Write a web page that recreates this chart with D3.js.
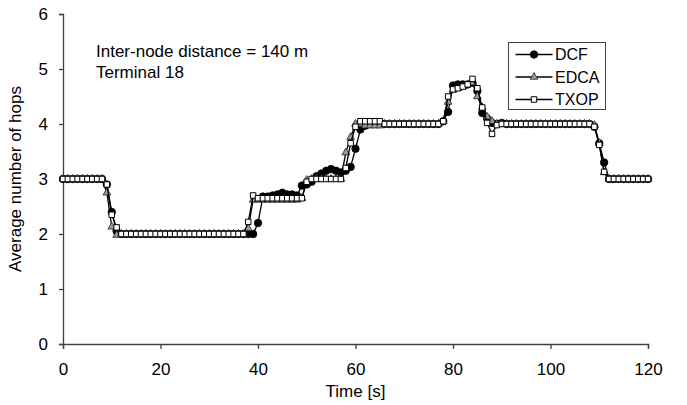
<!DOCTYPE html>
<html>
<head>
<meta charset="utf-8">
<script src="https://cdn.jsdelivr.net/npm/d3@7"></script>
<style>
  body { margin: 0; background: #fff; }
  svg { display: block; font-family: "Liberation Sans", Arial, sans-serif; }
</style>
</head>
<body>
<svg id="chart"></svg>
<script>
// time in seconds, one sample per second
const times = d3.range(0, 121);

const dcf = [
  3, 3, 3, 3, 3, 3, 3, 3, 3, 2.9,
  2.4, 2.05, 2, 2, 2, 2, 2, 2, 2, 2,
  2, 2, 2, 2, 2, 2, 2, 2, 2, 2,
  2, 2, 2, 2, 2, 2, 2, 2, 2, 2,
  2.2, 2.68, 2.68, 2.7, 2.72, 2.75, 2.72, 2.72, 2.7, 2.88,
  2.9, 2.95, 3.05, 3.1, 3.15, 3.18, 3.15, 3.12, 3.15, 3.22,
  3.55, 3.9, 3.97, 4, 4, 4, 4, 4, 4, 4,
  4, 4, 4, 4, 4, 4, 4, 4, 4.05, 4.22,
  4.7, 4.72, 4.72, 4.72, 4.75, 4.6, 4.2, 4.1, 4.02, 4,
  4.02, 4, 4, 4, 4, 4, 4, 4, 4, 4,
  4, 4, 4, 4, 4, 4, 4, 4, 4, 3.95,
  3.65, 3.3, 3, 3, 3, 3, 3, 3, 3, 3,
  3
];

const edca = [
  3, 3, 3, 3, 3, 3, 3, 3, 3, 2.75,
  2.13, 1.98, 2, 2, 2, 2, 2, 2, 2, 2,
  2, 2, 2, 2, 2, 2, 2, 2, 2, 2,
  2, 2, 2, 2, 2, 2, 2, 2, 2.1, 2.62,
  2.62, 2.62, 2.62, 2.62, 2.62, 2.62, 2.62, 2.62, 2.62, 2.65,
  2.98, 3, 3, 3, 3, 3, 3, 3, 3.48, 3.76,
  4, 4, 3.97, 3.97, 3.97, 3.97, 4, 4, 4, 4,
  4, 4, 4, 4, 4, 4, 4, 4, 4.05, 4.4,
  4.62, 4.65, 4.68, 4.72, 4.75, 4.5, 4.3, 4.13, 4.05, 4,
  4, 4, 4, 4, 4, 4, 4, 4, 4, 4,
  4, 4, 4, 4, 4, 4, 4, 4, 4, 3.98,
  3.65, 3.12, 3, 3, 3, 3, 3, 3, 3, 3,
  3
];

const txop = [
  3, 3, 3, 3, 3, 3, 3, 3, 3, 2.9,
  2.35, 2.12, 2, 2, 2, 2, 2, 2, 2, 2,
  2, 2, 2, 2, 2, 2, 2, 2, 2, 2,
  2, 2, 2, 2, 2, 2, 2, 2, 2.22, 2.7,
  2.65, 2.65, 2.65, 2.65, 2.65, 2.65, 2.65, 2.65, 2.65, 2.65,
  2.95, 3, 3, 3, 3, 3, 3, 3, 3.2, 3.65,
  3.95, 4.05, 4.05, 4.05, 4.05, 4.05, 4, 4, 4, 4,
  4, 4, 4, 4, 4, 4, 4, 4, 4.05, 4.5,
  4.63, 4.65, 4.68, 4.72, 4.82, 4.65, 4.3, 4.02, 3.82, 3.98,
  4, 4, 4, 4, 4, 4, 4, 4, 4, 4,
  4, 4, 4, 4, 4, 4, 4, 4, 4, 3.95,
  3.62, 3.13, 3, 3, 3, 3, 3, 3, 3, 3,
  3
];

const seriesNames = ["DCF", "EDCA", "TXOP"];
const xTicks = [0, 20, 40, 60, 80, 100, 120];
const yTicks = [0, 1, 2, 3, 4, 5, 6];

const svgWidth = 687, svgHeight = 405;
const margin = { top: 14, right: 39, bottom: 61, left: 63 };
const width = svgWidth - margin.left - margin.right;
const height = svgHeight - margin.top - margin.bottom;
const axisColor = "#404040";

const svg = d3.select("#chart")
  .attr("width", svgWidth)
  .attr("height", svgHeight);

const g = svg.append("g")
  .attr("transform", "translate(" + margin.left + "," + margin.top + ")");

const x = d3.scaleLinear().domain([0, 120]).range([0, width]);
const y = d3.scaleLinear().domain([0, 6]).range([height, 0]);

// axes
const xAxis = g.append("g")
  .attr("transform", "translate(0," + height + ")")
  .call(d3.axisBottom(x).tickValues(xTicks).tickSize(5).tickPadding(14));
const yAxis = g.append("g")
  .call(d3.axisLeft(y).tickValues(yTicks).tickFormat(d3.format("d")).tickSize(4).tickPadding(11));

[xAxis, yAxis].forEach(a => {
  a.select(".domain").attr("stroke", axisColor).attr("stroke-width", 1.3);
  a.selectAll(".tick line").attr("stroke", axisColor).attr("stroke-width", 1.3);
  a.selectAll(".tick text")
    .attr("fill", "#000")
    .style("font-size", "17px")
    .style("font-family", "'Liberation Sans', Arial, sans-serif");
});
xAxis.selectAll(".tick text").attr("dy", "0.71em");

// axis titles
g.append("text")
  .attr("x", width / 2)
  .attr("y", height + 53)
  .attr("text-anchor", "middle")
  .style("font-size", "17px")
  .text("Time [s]");

g.append("text")
  .attr("transform", "rotate(-90)")
  .attr("x", -height / 2)
  .attr("y", -42)
  .attr("text-anchor", "middle")
  .style("font-size", "17px")
  .text("Average number of hops");

// annotation
g.append("text")
  .attr("x", 33)
  .attr("y", 43)
  .style("font-size", "17px")
  .text("Inter-node distance = 140 m");
g.append("text")
  .attr("x", 33)
  .attr("y", 64)
  .style("font-size", "17px")
  .text("Terminal 18");

// series styles
const styles = {
  DCF:  { type: d3.symbolCircle,   size: 44, fill: "#000",    stroke: "#000", sw: 0.8 },
  EDCA: { type: d3.symbolTriangle, size: 26, fill: "#9a9a9a", stroke: "#222", sw: 0.8 },
  TXOP: { type: d3.symbolSquare,   size: 30, fill: "#fff",    stroke: "#000", sw: 1 }
};
const allData = { DCF: dcf, EDCA: edca, TXOP: txop };

const line = d3.line()
  .x(d => x(d[0]))
  .y(d => y(d[1]));

seriesNames.forEach(name => {
  const pts = times.map((t, i) => [t, allData[name][i]]);
  const st = styles[name];
  g.append("path")
    .datum(pts)
    .attr("fill", "none")
    .attr("stroke", "#000")
    .attr("stroke-width", 1.3)
    .attr("d", line);
  g.selectAll(".m-" + name)
    .data(pts)
    .enter()
    .append("path")
    .attr("class", "m-" + name)
    .attr("transform", d => "translate(" + x(d[0]) + "," + y(d[1]) + ")")
    .attr("d", d3.symbol().type(st.type).size(st.size))
    .attr("fill", st.fill)
    .attr("stroke", st.stroke)
    .attr("stroke-width", st.sw);
});

// legend
const legend = svg.append("g").attr("transform", "translate(508.5,42.5)");
legend.append("rect")
  .attr("width", 97)
  .attr("height", 67)
  .attr("fill", "#fff")
  .attr("stroke", axisColor)
  .attr("stroke-width", 1);

seriesNames.forEach((name, i) => {
  const st = styles[name];
  const ly = 12 + i * 22.5;
  legend.append("line")
    .attr("x1", 7).attr("x2", 44)
    .attr("y1", ly).attr("y2", ly)
    .attr("stroke", "#000")
    .attr("stroke-width", 1.3);
  legend.append("path")
    .attr("transform", "translate(25.5," + ly + ")")
    .attr("d", d3.symbol().type(st.type).size(st.size))
    .attr("fill", st.fill)
    .attr("stroke", st.stroke)
    .attr("stroke-width", st.sw);
  legend.append("text")
    .attr("x", 46.5)
    .attr("y", ly)
    .attr("dy", "0.36em")
    .style("font-size", "16px")
    .text(name);
});
</script>
</body>
</html>
